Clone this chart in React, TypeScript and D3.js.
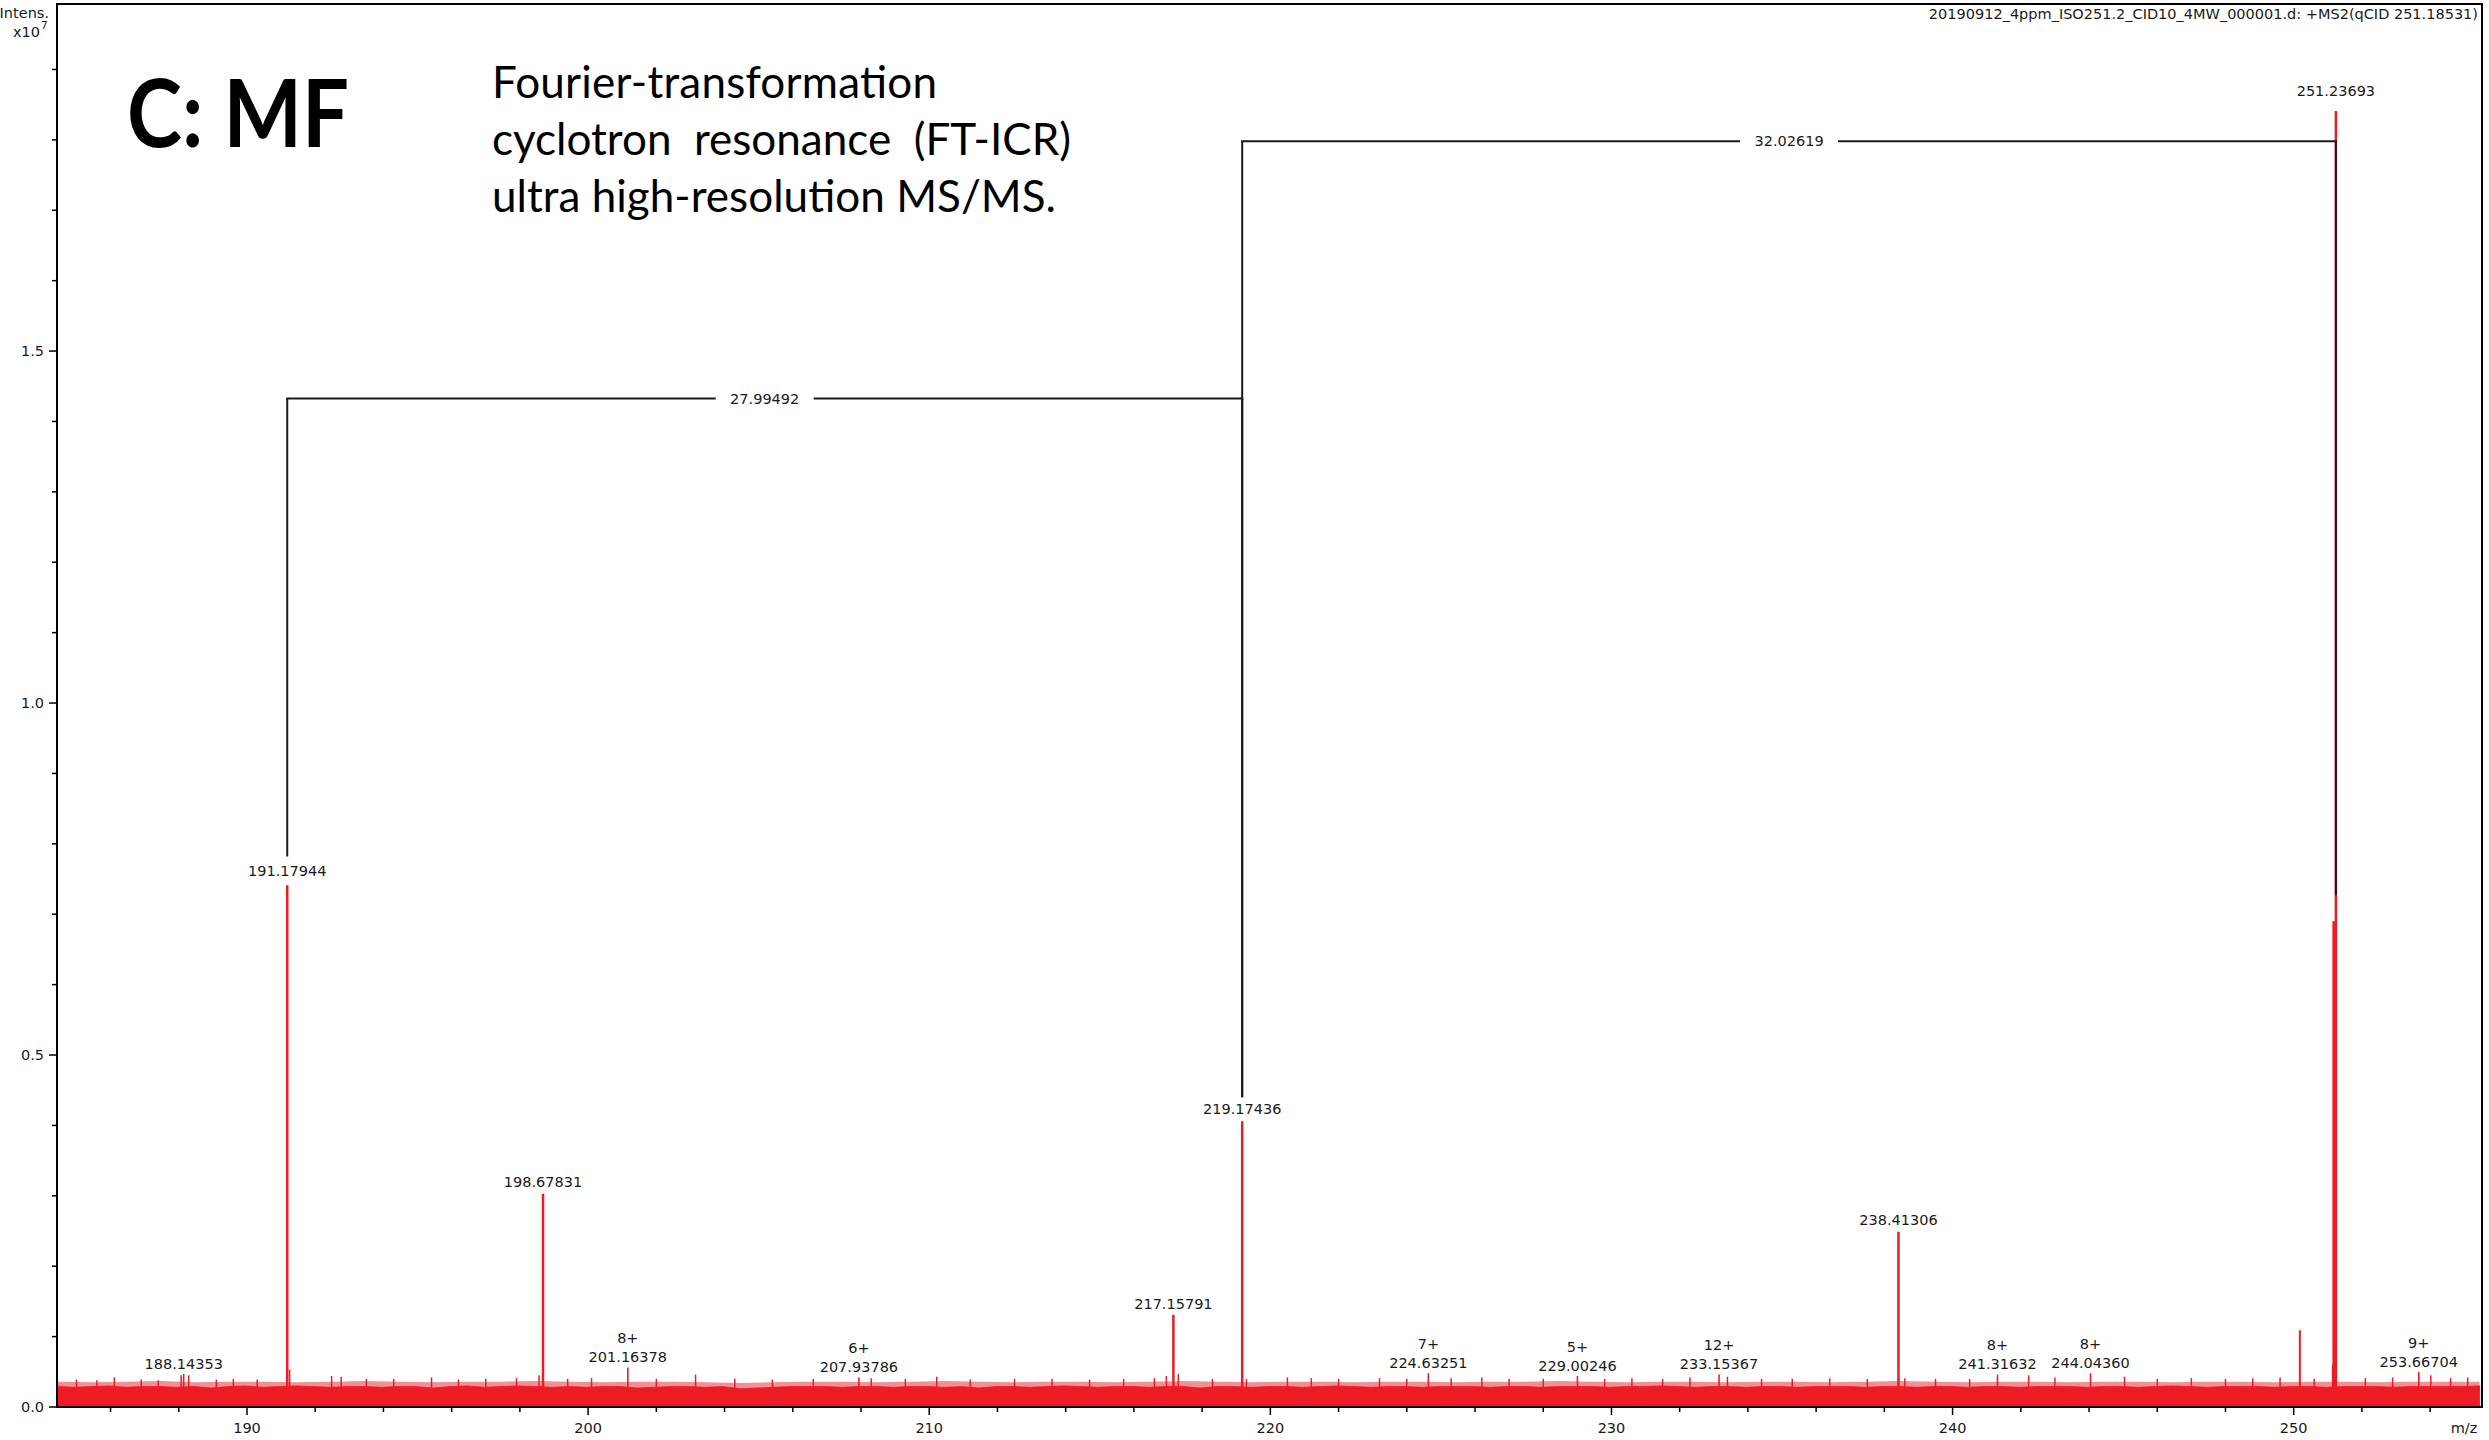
import React from 'react';
import * as d3 from 'd3';

// ---------- data (intensity in units of 1e7) ----------
const MZ_MIN = 184.43;
const MZ_MAX = 255.52;
const INT_MAX = 1.993;

const xMajorTicks = [190, 200, 210, 220, 230, 240, 250];
const yMajorTicks = [0, 0.5, 1.0, 1.5];

// labelled peaks
const labelMz = [188.14353, 191.17944, 198.67831, 201.16378, 207.93786, 217.15791, 219.17436, 224.63251, 229.00246, 233.15367, 238.41306, 241.31632, 244.0436, 251.23693, 253.66704];
const labelIntensity = [0.047, 0.741, 0.303, 0.056, 0.042, 0.131, 0.406, 0.048, 0.044, 0.046, 0.249, 0.046, 0.048, 1.841, 0.05];
const labelText = ['188.14353', '191.17944', '198.67831', '201.16378', '207.93786', '217.15791', '219.17436', '224.63251', '229.00246', '233.15367', '238.41306', '241.31632', '244.04360', '251.23693', '253.66704'];
const labelCharge = ['', '', '', '8+', '6+', '', '', '7+', '5+', '12+', '', '8+', '8+', '', '9+'];

// unlabelled peaks
const otherPeakMz = [250.18, 251.185];
const otherPeakIntensity = [0.109, 0.69];

// solid noise floor sampled every 0.5 m/z from 184.45
const NOISE_START = 184.45;
const NOISE_STEP = 0.5;
const noiseLevels = [
  0.029, 0.028, 0.029, 0.030, 0.028, 0.029, 0.029, 0.028, 0.029, 0.027,
  0.029, 0.030, 0.028, 0.029, 0.030, 0.029, 0.028, 0.029, 0.029, 0.028,
  0.029, 0.029, 0.027, 0.029, 0.030, 0.028, 0.029, 0.030, 0.029, 0.028,
  0.029, 0.028, 0.029, 0.029, 0.027, 0.028, 0.029, 0.029, 0.028, 0.029,
  0.026, 0.027, 0.028, 0.029, 0.029, 0.029, 0.028, 0.029, 0.029, 0.028,
  0.029, 0.029, 0.028, 0.029, 0.027, 0.029, 0.029, 0.028, 0.029, 0.030,
  0.029, 0.028, 0.029, 0.029, 0.028, 0.029, 0.029, 0.027, 0.029, 0.029,
  0.028, 0.029, 0.029, 0.028, 0.029, 0.030, 0.029, 0.028, 0.029, 0.029,
  0.028, 0.029, 0.029, 0.029, 0.028, 0.029, 0.029, 0.028, 0.029, 0.029,
  0.029, 0.028, 0.029, 0.029, 0.030, 0.029, 0.028, 0.029, 0.029, 0.028,
  0.029, 0.029, 0.028, 0.029, 0.029, 0.029, 0.028, 0.029, 0.029, 0.028,
  0.029, 0.029, 0.028, 0.029, 0.029, 0.028, 0.029, 0.029, 0.029, 0.028,
  0.029, 0.029, 0.028, 0.029, 0.030, 0.029, 0.028, 0.029, 0.029, 0.029,
  0.028, 0.029, 0.029, 0.028, 0.029, 0.029, 0.029, 0.028, 0.029, 0.029,
  0.029, 0.029, 0.030,
];

// upper envelope of the dense noise fringe, every 1 m/z from 184.45
const FRINGE_STEP = 1;
const noiseFringe = [
  0.036, 0.035, 0.036, 0.037, 0.035, 0.036, 0.036, 0.035, 0.036, 0.037,
  0.036, 0.035, 0.036, 0.036, 0.037, 0.036, 0.035, 0.036, 0.036, 0.035,
  0.034, 0.035, 0.036, 0.036, 0.035, 0.036, 0.037, 0.036, 0.035, 0.036,
  0.036, 0.035, 0.036, 0.037, 0.036, 0.035, 0.036, 0.036, 0.035, 0.036,
  0.036, 0.035, 0.036, 0.036, 0.037, 0.036, 0.035, 0.036, 0.036, 0.035,
  0.036, 0.036, 0.035, 0.036, 0.037, 0.036, 0.035, 0.036, 0.036, 0.035,
  0.036, 0.036, 0.035, 0.036, 0.036, 0.035, 0.036, 0.036, 0.035, 0.036,
  0.036, 0.036,
];

// small noise spikes
const spikeMz = [185.0, 185.6, 186.11, 186.9, 187.4, 188.07, 188.29, 189.1, 189.6, 190.3, 191.25, 192.48, 192.76, 193.5, 194.3, 195.41, 196.2, 197.0, 197.9, 198.56, 199.4, 200.1, 202.0, 203.15, 204.3, 205.4, 206.6, 208.3, 209.3, 210.22, 211.2, 212.5, 213.6, 214.7, 215.7, 216.6, 216.95, 217.3, 218.3, 219.3, 220.5, 221.2, 222.0, 223.2, 224.0, 225.3, 226.2, 227.0, 228.0, 229.8, 230.6, 231.5, 232.3, 233.4, 234.4, 235.3, 236.4, 237.5, 238.6, 239.5, 240.5, 242.23, 243.0, 245.04, 246.0, 247.0, 248.0, 248.8, 249.6, 250.6, 251.14, 252.1, 252.9, 254.02, 254.6, 255.1];
const spikeIntensity = [0.039, 0.038, 0.042, 0.039, 0.038, 0.045, 0.045, 0.039, 0.04, 0.039, 0.053, 0.044, 0.043, 0.04, 0.04, 0.042, 0.039, 0.04, 0.041, 0.045, 0.04, 0.041, 0.04, 0.046, 0.04, 0.039, 0.04, 0.041, 0.04, 0.043, 0.039, 0.04, 0.04, 0.039, 0.04, 0.041, 0.044, 0.047, 0.04, 0.04, 0.042, 0.041, 0.04, 0.041, 0.04, 0.041, 0.042, 0.04, 0.04, 0.04, 0.041, 0.04, 0.042, 0.043, 0.04, 0.04, 0.041, 0.04, 0.041, 0.04, 0.04, 0.045, 0.042, 0.043, 0.04, 0.041, 0.04, 0.041, 0.042, 0.04, 0.06, 0.041, 0.042, 0.045, 0.041, 0.042];

// mass-difference brackets
const bracketFromMz = [191.17944, 219.17436];
const bracketToMz = [219.17436, 251.23693];
const bracketLevel = [1.4327, 1.798];
const bracketLabel = ['27.99492', '32.02619'];
const bracketFromEnd = [0.782, 0.44];
const bracketToEnd = [0.44, 0.727];

const titleText = '20190912_4ppm_ISO251.2_CID10_4MW_000001.d: +MS2(qCID 251.18531)';
const panelText = 'C: MF';
const noteLines = ['Fourier-transformation', 'cyclotron  resonance  (FT-ICR)', 'ultra high-resolution MS/MS.'];
const noteWidths = [445, 579, 564];

// ---------- chart ----------
const RED = '#ED1C24';
const INK = '#1a1a1a';
const FONT = '"DejaVu Sans", Verdana, sans-serif';

export default function App() {
  const left = 57, right = 2482, top = 4, bottom = 1407;
  const x = d3.scaleLinear().domain([MZ_MIN, MZ_MAX]).range([left, right]);
  const y = d3.scaleLinear().domain([0, INT_MAX]).range([bottom, top]);

  const noisePts = noiseLevels.map((v, i) => [NOISE_START + i * NOISE_STEP, v] as [number, number]);
  const fringePts = noiseFringe.map((v, i) => [NOISE_START + i * FRINGE_STEP, v] as [number, number]);
  const area = d3.area<[number, number]>()
    .x((d) => x(d[0]))
    .y0(y(0))
    .y1((d) => y(d[1]))
    .curve(d3.curveLinear);
  const noiseArea = area(noisePts) || '';
  const fringeArea = area(fringePts) || '';

  const xMinor = d3.ticks(MZ_MIN, MZ_MAX, 36).filter((t) => Math.abs(t % 2) < 1e-9 && !xMajorTicks.includes(t));
  const yMinor = y.ticks(20).filter((t) => !yMajorTicks.some((m) => Math.abs(m - t) < 1e-9));

  const chargeGap = 19;
  const fs = 14.5;

  return (
    <svg width={2489} height={1440} style={{ position: 'absolute', left: 0, top: 0, background: '#fff' }} fontFamily={FONT}>
      <rect x={0} y={0} width={2489} height={1440} fill="#fff" />
      <defs>
        <clipPath id="plot">
          <rect x={left} y={top} width={right - left} height={bottom - top} />
        </clipPath>
      </defs>

      <g clipPath="url(#plot)">
        <path d={fringeArea} fill="#F06A6F" opacity={0.75} />
        <path d={noiseArea} fill={RED} stroke={RED} strokeWidth={0.8} />
        {spikeMz.map((m, i) => (
          <line key={'s' + i} x1={x(m)} x2={x(m)} y1={y(0)} y2={y(spikeIntensity[i])} stroke={RED} strokeWidth={1.5} />
        ))}
        {otherPeakMz.map((m, i) => (
          <line key={'o' + i} x1={x(m)} x2={x(m)} y1={y(0)} y2={y(otherPeakIntensity[i])} stroke={RED} strokeWidth={otherPeakIntensity[i] > 0.5 ? 3.5 : 2} />
        ))}
        {labelMz.map((m, i) => (
          <line key={'p' + i} x1={x(m)} x2={x(m)} y1={y(0)} y2={y(labelIntensity[i])} stroke={RED} strokeWidth={labelIntensity[i] > 0.1 ? 2.5 : 1.6} />
        ))}
      </g>

      {/* brackets */}
      {bracketFromMz.map((m, i) => {
        const x1 = x(m), x2 = x(bracketToMz[i]);
        const yy = y(bracketLevel[i]);
        const mid = (x1 + x2) / 2;
        const half = 49;
        return (
          <g key={'b' + i} stroke={INK} strokeWidth={2} fill="none">
            <line x1={x1} x2={x1} y1={yy} y2={y(bracketFromEnd[i])} />
            <line x1={x2} x2={x2} y1={yy} y2={y(bracketToEnd[i])} />
            <line x1={x1 - 1} x2={mid - half} y1={yy} y2={yy} />
            <line x1={mid + half} x2={x2 + 1} y1={yy} y2={yy} />
            <text x={mid} y={yy} dy="0.35em" textAnchor="middle" fontSize={fs} fill={INK} stroke="none">{bracketLabel[i]}</text>
          </g>
        );
      })}

      {/* peak labels */}
      {labelMz.map((m, i) => {
        const yb = y(labelIntensity[i]) - (5 + 5.5 * labelIntensity[i]);
        return (
          <g key={'l' + i} fontSize={fs} fill={INK} textAnchor="middle">
            <text x={x(m)} y={yb}>{labelText[i]}</text>
            {labelCharge[i] && <text x={x(m)} y={yb - chargeGap}>{labelCharge[i]}</text>}
          </g>
        );
      })}

      {/* frame */}
      <rect x={left} y={top} width={right - left} height={bottom - top} fill="none" stroke="#000" strokeWidth={2} />

      {/* y axis */}
      {yMajorTicks.map((t) => (
        <g key={'ym' + t}>
          <line x1={left - 8} x2={left} y1={y(t)} y2={y(t)} stroke="#000" strokeWidth={1.5} />
          <text x={left - 13} y={y(t)} dy="0.36em" textAnchor="end" fontSize={fs} fill={INK}>{t.toFixed(1)}</text>
        </g>
      ))}
      {yMinor.map((t) => (
        <line key={'yn' + t} x1={left - 5} x2={left} y1={y(t)} y2={y(t)} stroke="#000" strokeWidth={1.5} />
      ))}

      {/* x axis */}
      {xMajorTicks.map((t) => (
        <g key={'xm' + t}>
          <line x1={x(t)} x2={x(t)} y1={bottom} y2={bottom + 8} stroke="#000" strokeWidth={1.5} />
          <text x={x(t)} y={bottom + 26} textAnchor="middle" fontSize={fs} fill={INK}>{t}</text>
        </g>
      ))}
      {xMinor.map((t) => (
        <line key={'xn' + t} x1={x(t)} x2={x(t)} y1={bottom} y2={bottom + 5} stroke="#000" strokeWidth={1.5} />
      ))}
      <text x={2464} y={bottom + 26} textAnchor="middle" fontSize={fs} fill={INK}>m/z</text>

      {/* axis caption */}
      <text x={49} y={18} textAnchor="end" fontSize={fs} fill={INK}>Intens.</text>
      <text x={40} y={37} textAnchor="end" fontSize={fs} fill={INK}>x10</text>
      <text x={41} y={29} textAnchor="start" fontSize={10.5} fill={INK}>7</text>

      {/* title */}
      <text x={2478} y={19} textAnchor="end" fontSize={fs} fill={INK}>{titleText}</text>

      {/* panel annotations */}
      <text x={127} y={147} fontFamily="Lato, 'Open Sans', sans-serif" fontWeight={700} fontSize={93} fill="#000" textLength={222} lengthAdjust="spacingAndGlyphs">{panelText}</text>
      {noteLines.map((s, i) => (
        <text key={'n' + i} x={492} y={98 + i * 57} fontFamily="Lato, 'Open Sans', sans-serif" fontSize={44} fill="#000" style={{ whiteSpace: 'pre' }} textLength={noteWidths[i]} lengthAdjust="spacing">{s}</text>
      ))}
    </svg>
  );
}
